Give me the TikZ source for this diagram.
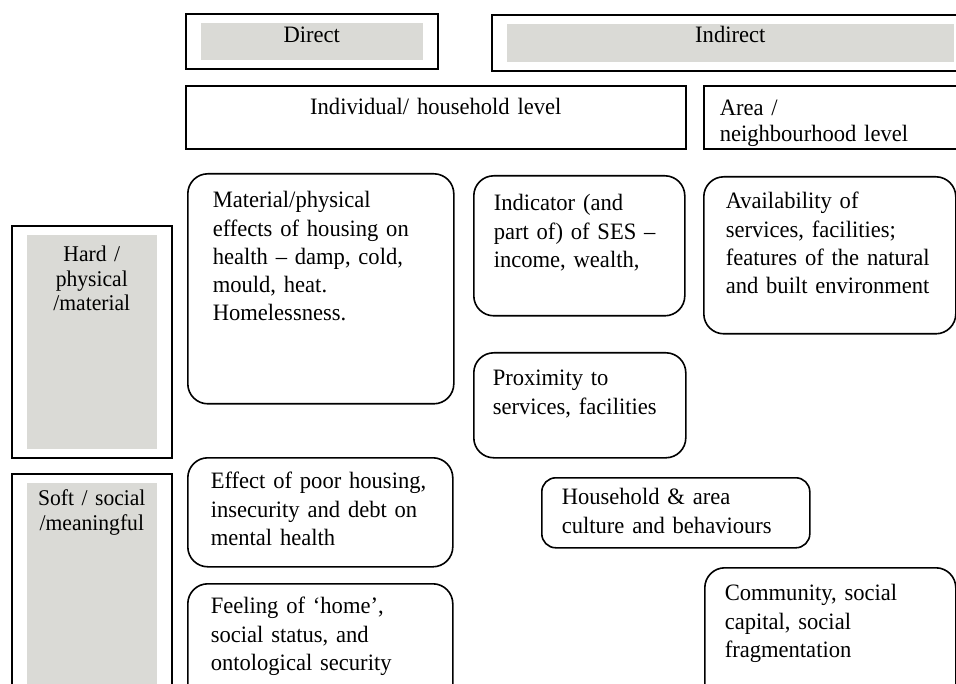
\documentclass[tikz,border=0pt]{standalone}
\usepackage{fontspec}
\setmainfont{Liberation Serif}[FakeStretch=0.96]
\definecolor{panelgrey}{RGB}{218,218,214}
\newcommand\cellfont{\fontsize{23.5pt}{28.3pt}\selectfont}
\newcommand\sidefont{\fontsize{22.5pt}{24.5pt}\selectfont}
\hyphenpenalty=10000

\begin{document}
\begin{tikzpicture}[x=1pt,y=-1pt,line width=1.6pt,
        cell/.style={draw, anchor=north west, inner ysep=0pt, font=\cellfont},
        level/.style={cell, align=center, inner xsep=0pt},
        topic/.style={cell, align=left, rounded corners=20pt},
        shaded/.style={path picture={\fill[panelgrey] ([xshift=15pt,yshift=-9pt]path picture bounding box.north west) rectangle ([xshift=-15pt,yshift=9pt]path picture bounding box.south east);}}]
        \useasboundingbox (0,0) rectangle (956,684);
        \clip (0,0) rectangle (956,684);

        \node (direct) [level, shaded, text width=252pt, text height=29pt, text depth=26pt] at (185,13) {Direct};
        \node (indirect) [level, shaded, text width=477pt, text height=28pt, text depth=28pt] at (491,14) {Indirect};

        \node (indiv) [level, text width=500pt, text height=29pt, text depth=34pt] at (185,85) {Individual/ household level};
        \node (area) [cell, align=left, inner xsep=16pt, text width=240pt, text height=30pt, text depth=33pt, font=\fontsize{23.5pt}{26pt}\selectfont] at (703,85) {Area /\\neighbourhood level};

        \node (hard) [level, shaded, font=\sidefont, text width=160pt, text height=36pt, text depth=196pt] at (11,225) {Hard /\\physical\\/material};
        \node (soft) [level, shaded, font=\sidefont, text width=160pt, text height=32pt, text depth=205pt] at (11,473) {Soft / social\\/meaningful};

        \node (material) [topic, inner xsep=25pt, text width=216pt, text height=34pt, text depth=196pt] at (187,173) {Material/physical\\effects of housing on\\health -- damp, cold,\\mould, heat.\\Homelessness.};
        \node (indicator) [topic, inner xsep=20pt, text width=171pt, text height=35pt, text depth=105pt] at (473,175) {Indicator (and\\part of) of SES --\\income, wealth,};
        \node (avail) [topic, inner xsep=22pt, text width=208pt, text height=32pt, text depth=125pt] at (703,176) {Availability of\\services, facilities;\\features of the natural\\and built environment};
        \node (proximity) [topic, inner xsep=19pt, text width=174pt, text height=33pt, text depth=72pt] at (473,352) {Proximity to\\services, facilities};

        \node (mental) [topic, inner xsep=23pt, text width=219pt, text height=31pt, text depth=78pt] at (187,457) {Effect of poor housing,\\insecurity and debt on\\mental health};
        \node (culture) [topic, rounded corners=14pt, inner xsep=20pt, text width=228pt, text height=27pt, text depth=43pt] at (541,477) {Household \& area\\culture and behaviours};
        \node (home) [topic, inner xsep=23pt, text width=219pt, text height=30pt, text depth=97pt] at (187,583) {Feeling of `home',\\social status, and\\ontological security};
        \node (community) [topic, inner xsep=20pt, text width=211pt, text height=33pt, text depth=110pt] at (704,567) {Community, social\\capital, social\\fragmentation};
\end{tikzpicture}
\end{document}
